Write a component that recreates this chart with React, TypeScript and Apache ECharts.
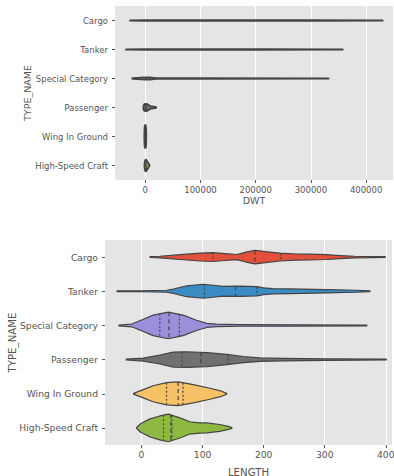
import React, { useEffect, useRef } from 'react';
import * as echarts from 'echarts';

const categories = ['Cargo', 'Tanker', 'Special Category', 'Passenger', 'Wing In Ground', 'High-Speed Craft'];
const violinColors = ['#E1503A', '#3A8CC4', '#9A8FDA', '#707070', '#F6C265', '#8DB942'];

const dwtTicks = [0, 100000, 200000, 300000, 400000];
const lengthTicks = [0, 100, 200, 300, 400];

// [value, half-width as fraction of category band]
const dwtCargo = [[-27500, 0.006], [0, 0.012], [30000, 0.01], [150000, 0.009], [300000, 0.008], [430000, 0.006]];
const dwtTanker = [[-34900, 0.006], [0, 0.012], [30000, 0.01], [200000, 0.008], [357600, 0.006]];
const dwtSpecial = [[-23500, 0.008], [0, 0.04], [8000, 0.04], [20000, 0.015], [100000, 0.01], [332000, 0.006]];
const dwtPassenger = [[-3600, 0.02], [-2500, 0.1], [0, 0.125], [3000, 0.12], [7000, 0.08], [9000, 0.045], [15000, 0.03], [19600, 0.01]];
const dwtWing = [[-1800, 0.02], [-1400, 0.3], [-600, 0.39], [600, 0.39], [1400, 0.3], [1800, 0.02]];
const dwtHsc = [[-1500, 0.02], [-1000, 0.12], [0, 0.19], [1500, 0.2], [3500, 0.14], [5500, 0.08], [7500, 0.02]];

const dwtQuartiles = [
  [3000, 12000, 45000],
  [3000, 15000, 60000],
  [500, 3000, 8000],
  [200, 1000, 2500],
  [-300, 0, 300],
  [400, 1500, 2600],
];

const lenCargo = [[14, 0.012], [30, 0.025], [63, 0.07], [96, 0.115], [117, 0.13], [137, 0.1], [156, 0.075], [171, 0.145], [186, 0.2], [203, 0.16], [227, 0.115], [253, 0.09], [276, 0.085], [303, 0.07], [325, 0.045], [349, 0.025], [375, 0.015], [399, 0.012]];
const lenTanker = [[-40, 0.012], [0, 0.015], [41, 0.03], [52, 0.06], [74, 0.16], [101, 0.205], [134, 0.14], [161, 0.15], [189, 0.135], [200, 0.1], [215, 0.075], [243, 0.068], [303, 0.05], [352, 0.03], [374, 0.012]];
const lenSpecial = [[-37, 0.012], [-16, 0.04], [3, 0.18], [19, 0.3], [44, 0.39], [68, 0.3], [90, 0.15], [107, 0.06], [123, 0.035], [160, 0.025], [250, 0.02], [369, 0.012]];
const lenPassenger = [[-25, 0.012], [3, 0.045], [30, 0.13], [52, 0.22], [74, 0.23], [107, 0.205], [140, 0.15], [167, 0.09], [194, 0.05], [232, 0.035], [300, 0.025], [401, 0.012]];
const lenWing = [[-13, 0.012], [3, 0.12], [19, 0.235], [41, 0.325], [60, 0.345], [85, 0.265], [112, 0.16], [131, 0.075], [139.5, 0.012]];
const lenHsc = [[-8, 0.012], [-2, 0.12], [14, 0.265], [30, 0.35], [44, 0.405], [63, 0.295], [79, 0.18], [95, 0.15], [107, 0.145], [128, 0.1], [142, 0.045], [148, 0.012]];

const lengthQuartiles = [
  [117, 186, 228],
  [103, 154, 189],
  [30, 45, 62],
  [66, 97, 142],
  [41, 60, 68],
  [36, 48, 50],
];

const dwtProfiles = [dwtCargo, dwtTanker, dwtSpecial, dwtPassenger, dwtWing, dwtHsc];
const lengthProfiles = [lenCargo, lenTanker, lenSpecial, lenPassenger, lenWing, lenHsc];

const EDGE = '#444444';
const TEXT = '#555555';
const FONT = 'DejaVu Sans';

function halfAt(profile: number[][], x: number): number {
  for (let k = 0; k < profile.length - 1; k++) {
    const [x0, w0] = profile[k];
    const [x1, w1] = profile[k + 1];
    if (x >= x0 && x <= x1) {
      return w0 + ((w1 - w0) * (x - x0)) / (x1 - x0);
    }
  }
  return 0;
}

function makeRender(profiles: number[][][], quartiles: number[][], lineWidth: number) {
  return (params: any, api: any) => {
    const i = api.value(1);
    const prof = profiles[i];
    const band = api.size([0, 1])[1];
    const top = prof.map(([x, w]) => {
      const p = api.coord([x, i]);
      return [p[0], p[1] - w * band];
    });
    const bot = prof
      .slice()
      .reverse()
      .map(([x, w]) => {
        const p = api.coord([x, i]);
        return [p[0], p[1] + w * band];
      });
    const children: any[] = [
      {
        type: 'polygon',
        shape: { points: top.concat(bot) },
        style: { fill: violinColors[i], stroke: EDGE, lineWidth, lineJoin: 'round' },
      },
    ];
    quartiles[i].forEach((q, k) => {
      const w = halfAt(prof, q) * band;
      if (w < 1) return;
      const p = api.coord([q, i]);
      children.push({
        type: 'line',
        shape: { x1: p[0], y1: p[1] - w, x2: p[0], y2: p[1] + w },
        style: { stroke: EDGE, lineWidth: 1.2, lineDash: k === 1 ? [4, 3] : [2, 2] },
      });
    });
    return { type: 'group', children };
  };
}

function xAxisFor(gridIndex: number, min: number, max: number, ticks: number[], name: string, nameGap: number, fontSize: number) {
  return {
    type: 'value',
    gridIndex,
    min,
    max,
    name,
    nameLocation: 'middle',
    nameGap,
    nameMoveOverlap: false,
    nameTextStyle: { color: TEXT, fontFamily: FONT, fontSize: fontSize + 1 },
    axisLine: { show: false, onZero: false },
    axisTick: { show: true, length: 3, customValues: ticks, lineStyle: { color: TEXT, width: 1 } },
    axisLabel: {
      customValues: ticks,
      color: TEXT,
      fontFamily: FONT,
      fontSize,
      margin: 5,
      formatter: (v: number) => String(v),
    },
    splitLine: { show: true, customValues: ticks, lineStyle: { color: '#ffffff', width: 1 } },
  };
}

function yAxisFor(gridIndex: number, nameGap: number, fontSize: number) {
  return {
    type: 'category',
    gridIndex,
    data: categories,
    inverse: true,
    name: 'TYPE_NAME',
    nameLocation: 'middle',
    nameRotate: 90,
    nameGap,
    nameMoveOverlap: false,
    nameTextStyle: { color: TEXT, fontFamily: FONT, fontSize: fontSize + 1 },
    axisLine: { show: false, onZero: false },
    axisTick: { show: true, length: 3, alignWithLabel: true, lineStyle: { color: TEXT, width: 1 } },
    axisLabel: { color: TEXT, fontFamily: FONT, fontSize, margin: 7 },
    splitLine: { show: false },
  };
}

export default function App() {
  const ref = useRef<HTMLDivElement>(null);
  useEffect(() => {
    if (!ref.current) return;
    const chart = echarts.init(ref.current, null, { renderer: 'svg' });
    const seriesData = categories.map((_, i) => [0, i]);
    chart.setOption({
      animation: false,
      backgroundColor: '#ffffff',
      grid: [
        { left: 115, top: 6, right: 1, height: 174, show: true, backgroundColor: '#E5E5E5', borderWidth: 0, outerBoundsMode: 'none' },
        { left: 105, top: 240, right: 2, height: 205, show: true, backgroundColor: '#E5E5E5', borderWidth: 0, outerBoundsMode: 'none' },
      ],
      xAxis: [
        xAxisFor(0, -54900, 448700, dwtTicks, 'DWT', 15, 8.5),
        xAxisFor(1, -59.8, 410.2, lengthTicks, 'LENGTH', 22, 9.2),
      ],
      yAxis: [yAxisFor(0, 83, 8.5), yAxisFor(1, 88, 9.2)],
      series: [
        {
          type: 'custom',
          xAxisIndex: 0,
          yAxisIndex: 0,
          data: seriesData,
          encode: { x: 0, y: 1 },
          renderItem: makeRender(dwtProfiles, dwtQuartiles, 1.8),
        },
        {
          type: 'custom',
          xAxisIndex: 1,
          yAxisIndex: 1,
          data: seriesData,
          encode: { x: 0, y: 1 },
          renderItem: makeRender(lengthProfiles, lengthQuartiles, 1.2),
        },
      ],
    });
    return () => chart.dispose();
  }, []);
  return <div ref={ref} style={{ position: 'fixed', left: 0, top: 0, width: 394, height: 476 }} />;
}
